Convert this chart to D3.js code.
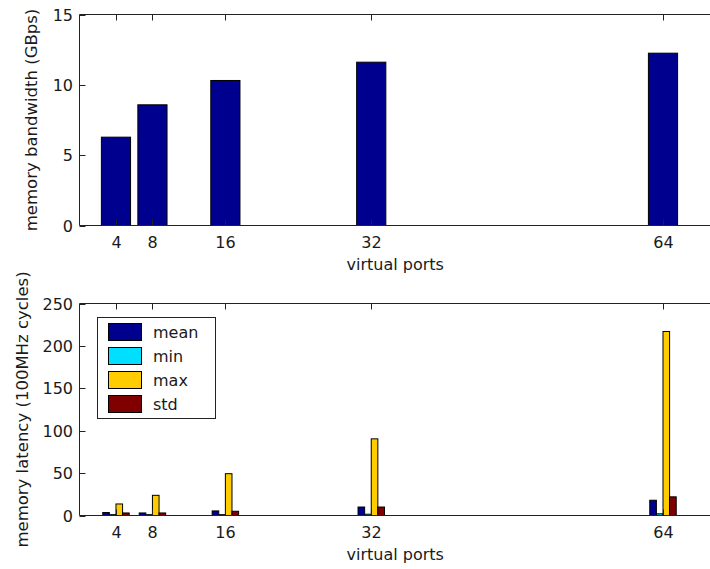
<!DOCTYPE html>
<html>
<head>
<meta charset="utf-8">
<script src="https://cdn.jsdelivr.net/npm/d3@7"></script>
<style>
  body { margin: 0; background: #fff; }
  text { font-family: "DejaVu Sans", sans-serif; fill: #1a1a1a; }
</style>
</head>
<body>
<svg id="chart" width="710" height="569"></svg>
<script>
// data
var ports = [4, 8, 16, 32, 64];
var bandwidth = [6.28, 8.58, 10.31, 11.61, 12.25];
var latencySeries = ["mean", "min", "max", "std"];
var latencyMean = [3.5, 3, 5.4, 10, 18];
var latencyMin = [1, 1, 1, 1.5, 2];
var latencyMax = [13.6, 23.8, 49.3, 90.4, 217];
var latencyStd = [3, 3, 5, 10, 22];
var seriesColors = ["#00008f", "#00dfff", "#ffcc00", "#800000"];
var topTicks = [0, 5, 10, 15];
var bottomTicks = [0, 50, 100, 150, 200, 250];

var svg = d3.select("#chart");
var ink = "#222";
var tickLen = 6;
var fs = "16px";

/** x scale shared by both panels; right side of axes runs past the window like the original */
var x = d3.scaleLinear().domain([0, 70]).range([79.5, 717.7]);

/** draws the box lines, inward ticks and tick labels of one panel */
function drawFrame(g, y, yTicks, top, bottom, ylabel, ylabelX) {
  // box lines (left, top, bottom)
  g.append("line").attr("x1", x.range()[0]).attr("x2", 720).attr("y1", top).attr("y2", top).attr("stroke", ink);
  g.append("line").attr("x1", x.range()[0]).attr("x2", 720).attr("y1", bottom).attr("y2", bottom).attr("stroke", ink);
  g.append("line").attr("x1", x.range()[0]).attr("x2", x.range()[0]).attr("y1", top).attr("y2", bottom).attr("stroke", ink);

  // y ticks
  yTicks.forEach(function(t) {
    var yy = Math.round(y(t)) + 0.5;
    g.append("line").attr("x1", x.range()[0]).attr("x2", x.range()[0] + tickLen)
      .attr("y1", yy).attr("y2", yy).attr("stroke", ink);
    g.append("text").attr("x", 73).attr("y", yy).attr("dy", "0.36em")
      .attr("text-anchor", "end").style("font-size", fs).text(t);
  });

  // x tick labels and top ticks
  ports.forEach(function(p) {
    var xx = Math.round(x(p)) + 0.5;
    g.append("line").attr("x1", xx).attr("x2", xx).attr("y1", top).attr("y2", top + tickLen).attr("stroke", ink);
    g.append("text").attr("x", xx).attr("y", bottom + 22)
      .attr("text-anchor", "middle").style("font-size", fs).text(p);
  });

  g.append("text").attr("x", x(32) + 24).attr("y", bottom + 44)
    .attr("text-anchor", "middle").style("font-size", fs).text("virtual ports");

  g.append("text")
    .attr("transform", "translate(" + ylabelX + "," + ((top + bottom) / 2) + ") rotate(-90)")
    .attr("text-anchor", "middle").attr("dy", "0.36em")
    .style("font-size", "16.5px").text(ylabel);
}

/** bottom ticks drawn last so they sit on top of bars */
function drawBottomTicks(g, bottom) {
  ports.forEach(function(p) {
    var xx = Math.round(x(p)) + 0.5;
    g.append("line").attr("x1", xx).attr("x2", xx).attr("y1", bottom).attr("y2", bottom - tickLen).attr("stroke", ink);
  });
}

// ---------- top panel: bandwidth ----------
var top1 = 14.5, bot1 = 225.5;
var y1 = d3.scaleLinear().domain([0, 15]).range([bot1, top1]);
var g1 = svg.append("g");
var barW = x(3.2) - x(0);

g1.selectAll(".bw").data(ports).enter().append("rect")
  .attr("class", "bw")
  .attr("x", function(d) { return x(d) - barW / 2; })
  .attr("y", function(d, i) { return y1(bandwidth[i]); })
  .attr("width", barW)
  .attr("height", function(d, i) { return y1(0) - y1(bandwidth[i]); })
  .attr("fill", seriesColors[0])
  .attr("stroke", "#000");

drawFrame(g1, y1, topTicks, top1, bot1, "memory bandwidth (GBps)", 31);
drawBottomTicks(g1, bot1);

// ---------- bottom panel: latency ----------
var top2 = 303.5, bot2 = 515.5;
var y2 = d3.scaleLinear().domain([0, 250]).range([bot2, top2]);
var g2 = svg.append("g");
var latency = [latencyMean, latencyMin, latencyMax, latencyStd];
var groupW = x(2.9) - x(0);
var sub = d3.scaleBand().domain(latencySeries).range([-groupW / 2, groupW / 2]).padding(0);

var groups = g2.selectAll(".grp").data(ports).enter().append("g")
  .attr("class", "grp")
  .attr("transform", function(d) { return "translate(" + x(d) + ",0)"; });

groups.selectAll("rect")
  .data(function(d, i) {
    return latencySeries.map(function(s, k) { return {s: s, k: k, v: latency[k][i]}; });
  })
  .enter().append("rect")
  .attr("x", function(d) { return sub(d.s); })
  .attr("y", function(d) { return y2(d.v); })
  .attr("width", sub.bandwidth())
  .attr("height", function(d) { return y2(0) - y2(d.v); })
  .attr("fill", function(d) { return seriesColors[d.k]; })
  .attr("stroke", "#000");

drawFrame(g2, y2, bottomTicks, top2, bot2, "memory latency (100MHz cycles)", 22);
drawBottomTicks(g2, bot2);

// legend
var lg = g2.append("g");
lg.append("rect").attr("x", 97.5).attr("y", 317.5).attr("width", 118).attr("height", 101)
  .attr("fill", "#fff").attr("stroke", ink);
latencySeries.forEach(function(s, k) {
  var yy = 323.5 + k * 24;
  lg.append("rect").attr("x", 108.5).attr("y", yy).attr("width", 33).attr("height", 17)
    .attr("fill", seriesColors[k]).attr("stroke", "#000");
  lg.append("text").attr("x", 153).attr("y", yy + 9).attr("dy", "0.36em")
    .style("font-size", fs).text(s);
});
</script>
</body>
</html>
